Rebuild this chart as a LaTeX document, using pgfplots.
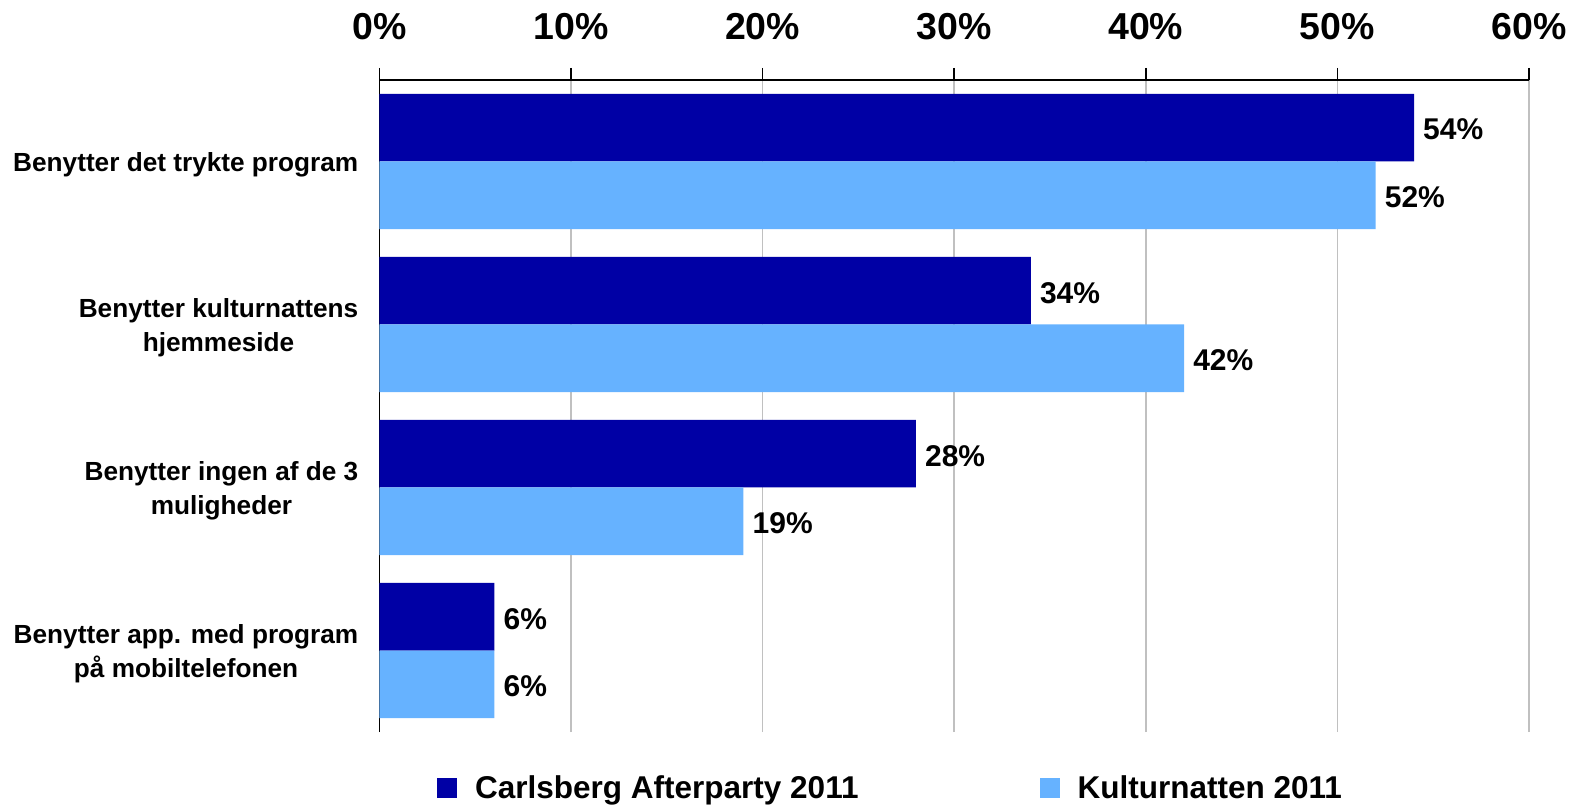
\documentclass[border=0pt]{standalone}
\usepackage{pgfplots}
\pgfplotsset{compat=1.18}
\usepackage{fontspec}
\setmainfont{Liberation Sans}
\definecolor{cdark}{RGB}{0,0,165}
\definecolor{clight}{RGB}{102,178,255}
\definecolor{cgrid}{RGB}{192,192,192}
\begin{document}
\begin{tikzpicture}[font=\bfseries]
\begin{axis}[
  scale only axis, width=1149.5bp, height=652bp,
  xmin=0, xmax=60, ymin=-0.5, ymax=3.5,
  clip=false,
  axis x line*=top, axis y line*=left,
  axis line style={line width=1.6bp, black},
  tick align=outside,
  every tick/.style={line width=1.6bp, black},
  major tick length=12bp,
  minor tick length=9bp,
  xtick={0,10,...,60},
  xticklabels={0\%,10\%,20\%,30\%,40\%,50\%,60\%},
  xticklabel style={font=\fontsize{37.5bp}{37.5bp}\selectfont\bfseries, inner sep=0pt, anchor=base, yshift=28bp},
  xmajorgrids,
  grid style={draw=cgrid, line width=1.6bp},
  ytick=\empty,
  minor ytick={-0.5,0.5,1.5,2.5,3.5},
  extra y ticks={0,1,2,3},
  extra y tick labels={{Benytter app. med program\\på mobiltelefonen},{Benytter ingen af de 3\\muligheder},{Benytter kulturnattens\\hjemmeside},{Benytter det trykte program}},
  extra y tick style={major tick length=0pt, yticklabel style={align=center, font=\fontsize{26.2bp}{34bp}\selectfont\bfseries, inner sep=0pt, anchor=east, xshift=-21bp, yshift=-3.5bp}},
  legend columns=2,
  legend style={draw=none, fill=none, at={(rel axis cs:0,0)}, anchor=west, xshift=57.5bp, yshift=-56bp, inner sep=0pt,
    font=\fontsize{31.5bp}{31.5bp}\selectfont\bfseries,
    nodes={inner sep=0pt},
    /tikz/every even column/.append style={column sep=181bp}},
  legend image code/.code={\fill[#1] (0bp,-10bp) rectangle (20bp,10bp); \path (38bp,0bp);},
  nodes near coords={\pgfmathprintnumber[assume math mode=true]{\pgfplotspointmeta}\%},
  point meta=x,
  every node near coord/.append style={font=\fontsize{30bp}{30bp}\selectfont\bfseries, anchor=west, inner sep=0pt, xshift=9bp, black},
]
\addplot[xbar, bar width=0.415, bar shift=0.2075, fill=cdark, draw=none,
  every node near coord/.append style={yshift=31.8bp}] coordinates {(54,3) (34,2) (28,1) (6,0)};
\addlegendentry{Carlsberg Afterparty 2011}
\addplot[xbar, bar width=0.415, bar shift=-0.2075, fill=clight, draw=none,
  every node near coord/.append style={yshift=-35.3bp}] coordinates {(52,3) (42,2) (19,1) (6,0)};
\addlegendentry{Kulturnatten 2011}
\coordinate (SW) at (rel axis cs:0,0);
\end{axis}
\pgfresetboundingbox
\path (SW) ++(-379.5bp,-73bp) rectangle ++(1587bp,805bp);
\end{tikzpicture}
\end{document}
